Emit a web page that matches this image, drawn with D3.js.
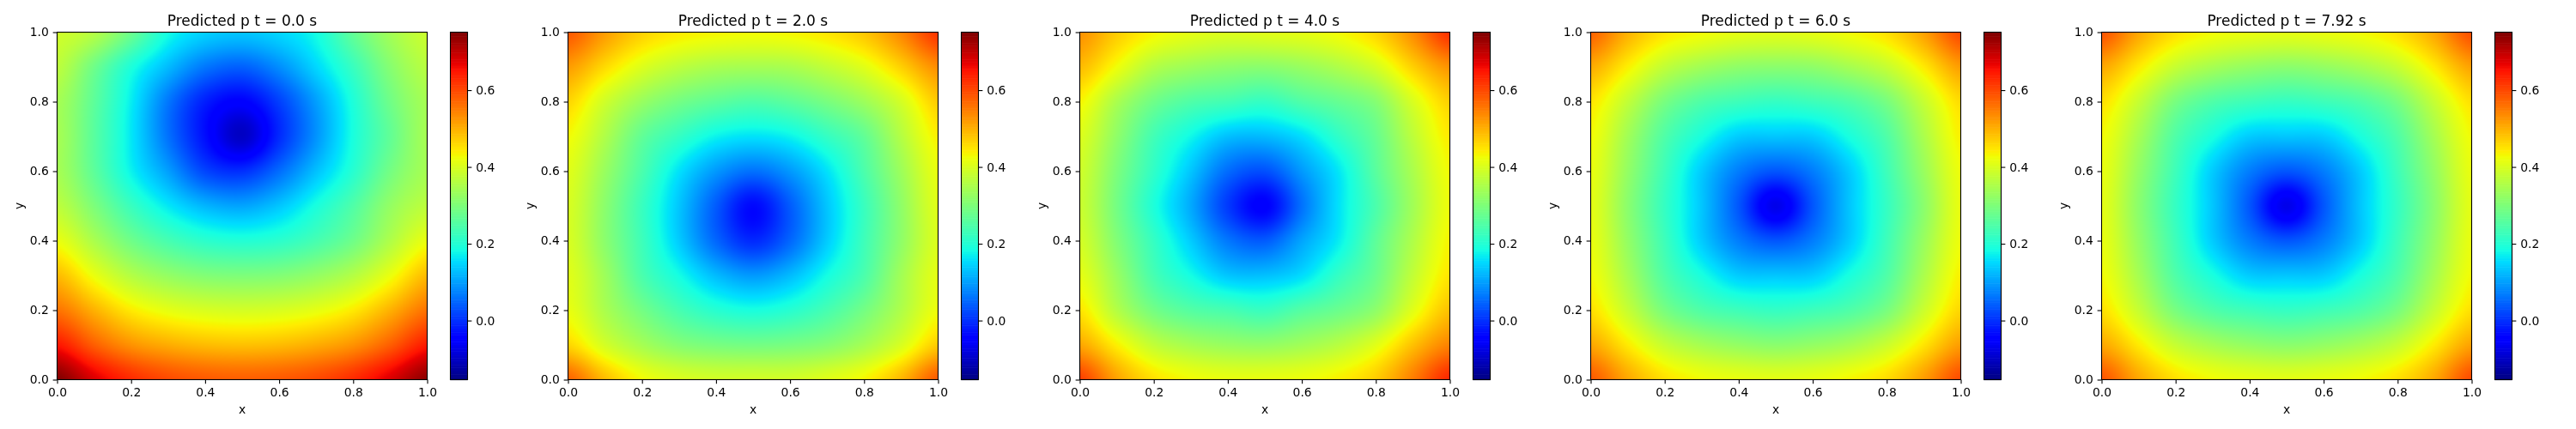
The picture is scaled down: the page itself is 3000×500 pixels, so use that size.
<!DOCTYPE html>
<html><head><meta charset="utf-8">
<script src="https://cdn.jsdelivr.net/npm/d3@7"></script>
<style>
html,body{margin:0;padding:0;background:#fff;width:3000px;height:500px;overflow:hidden}
#wrap{position:relative;width:3000px;height:500px}
canvas,svg{position:absolute;left:0;top:0}
text{font-family:"DejaVu Sans";fill:#000}
</style></head><body><div id="wrap"></div>
<script>
const titles=["Predicted p t = 0.0 s","Predicted p t = 2.0 s","Predicted p t = 4.0 s","Predicted p t = 6.0 s","Predicted p t = 7.92 s"];
const gridX=[0,.1,.2,.3,.4,.5,.6,.7,.8,.9,1];
const gridY=[1,.9,.8,.7,.6,.5,.4,.3,.2,.1,0];
const axisTicks=[0,.2,.4,.6,.8,1];
const barTicks=[0,.2,.4,.6];
const vMin=-0.154, vMax=0.751;
const p0=[
[.39,.36,.28,.185,.145,.135,.15,.185,.27,.34,.385],
[.37,.285,.195,.125,.065,.045,.085,.15,.225,.31,.365],
[.345,.265,.17,.065,-.015,-.045,.015,.10,.195,.285,.345],
[.345,.26,.165,.06,-.03,-.10,-.005,.09,.19,.27,.345],
[.345,.265,.175,.10,.02,.0,.055,.13,.205,.29,.345],
[.37,.30,.225,.165,.12,.105,.135,.19,.25,.325,.37],
[.42,.35,.285,.24,.21,.20,.21,.24,.285,.355,.42],
[.49,.42,.36,.325,.305,.30,.305,.325,.36,.42,.49],
[.56,.50,.445,.415,.40,.395,.40,.415,.445,.50,.56],
[.65,.58,.53,.505,.49,.485,.49,.505,.53,.58,.645],
[.75,.68,.63,.60,.585,.58,.585,.60,.63,.68,.74]];
const p2=[
[.585,.52,.47,.445,.435,.43,.435,.45,.48,.54,.62],
[.52,.46,.405,.37,.35,.345,.35,.375,.41,.47,.535],
[.465,.39,.33,.29,.265,.25,.265,.295,.335,.395,.475],
[.43,.355,.27,.22,.175,.16,.175,.22,.27,.36,.44],
[.41,.33,.245,.16,.095,.06,.095,.16,.245,.335,.42],
[.40,.315,.225,.135,.04,-.035,.04,.135,.225,.32,.41],
[.40,.315,.23,.14,.05,-.005,.05,.14,.23,.32,.405],
[.41,.335,.245,.185,.125,.095,.125,.185,.245,.34,.415],
[.42,.35,.29,.24,.205,.19,.205,.24,.29,.355,.425],
[.465,.395,.345,.31,.295,.29,.295,.31,.345,.40,.475],
[.575,.49,.43,.405,.395,.395,.395,.41,.435,.495,.585]];
const p4=[
[.53,.475,.435,.415,.405,.41,.415,.43,.465,.535,.625],
[.49,.425,.36,.335,.32,.315,.33,.355,.395,.47,.53],
[.435,.35,.285,.25,.235,.22,.25,.275,.31,.40,.47],
[.405,.32,.235,.18,.13,.125,.155,.215,.275,.37,.445],
[.39,.30,.215,.135,.055,.03,.095,.165,.26,.35,.43],
[.385,.29,.195,.11,.01,-.045,.06,.16,.245,.34,.425],
[.395,.305,.22,.14,.065,.04,.105,.17,.265,.355,.435],
[.415,.33,.24,.185,.135,.13,.155,.22,.28,.375,.45],
[.45,.36,.29,.255,.24,.225,.255,.28,.32,.41,.485],
[.51,.44,.375,.345,.33,.325,.34,.365,.41,.485,.545],
[.61,.515,.455,.43,.42,.42,.425,.44,.475,.55,.635]];
const p6=[
[.575,.50,.45,.43,.415,.41,.415,.43,.455,.515,.60],
[.505,.44,.375,.34,.32,.315,.32,.345,.38,.445,.52],
[.45,.375,.295,.25,.23,.22,.23,.25,.295,.38,.46],
[.43,.34,.25,.19,.14,.135,.14,.19,.25,.35,.44],
[.42,.325,.23,.14,.07,.035,.07,.14,.23,.33,.425],
[.415,.315,.22,.135,.035,-.07,.035,.135,.22,.315,.42],
[.42,.325,.23,.14,.07,.035,.07,.14,.23,.33,.425],
[.43,.345,.25,.19,.14,.135,.14,.19,.25,.35,.44],
[.455,.38,.295,.25,.23,.22,.23,.25,.295,.385,.465],
[.51,.445,.38,.345,.325,.315,.325,.345,.385,.45,.52],
[.585,.51,.455,.43,.42,.415,.42,.435,.46,.52,.60]];
const p8=[
[.59,.51,.455,.43,.42,.415,.42,.43,.455,.51,.595],
[.51,.445,.38,.345,.325,.315,.325,.345,.38,.445,.515],
[.455,.38,.295,.25,.23,.22,.23,.25,.295,.38,.455],
[.43,.345,.25,.19,.14,.135,.14,.19,.25,.345,.43],
[.42,.325,.23,.14,.07,.035,.07,.14,.23,.325,.42],
[.415,.315,.22,.135,.035,-.07,.035,.135,.22,.315,.415],
[.42,.325,.23,.14,.07,.035,.07,.14,.23,.325,.42],
[.43,.345,.25,.19,.14,.135,.14,.19,.25,.345,.43],
[.455,.38,.295,.25,.23,.22,.23,.25,.295,.38,.455],
[.51,.445,.38,.345,.325,.315,.325,.345,.38,.445,.515],
[.59,.51,.455,.43,.42,.415,.42,.43,.455,.51,.60]];
const fields=[p0,p2,p4,p6,p8];

// matplotlib "jet" segments
const rS=d3.scaleLinear([0,.35,.66,.89,1],[0,0,1,1,.5]);
const gS=d3.scaleLinear([0,.125,.375,.64,.91,1],[0,0,1,1,0,0]);
const bS=d3.scaleLinear([0,.11,.34,.65,1],[.5,1,1,0,0]);
const norm=d3.scaleLinear([vMin,vMax],[0,1]).clamp(true);
const jet=v=>{const t=norm(v);return [rS(t)*255,gS(t)*255,bS(t)*255];};

const W=3000,H=500;
const wrap=d3.select("#wrap");
const canvas=wrap.append("canvas").attr("width",W).attr("height",H).node();
const ctx=canvas.getContext("2d");
const svg=wrap.append("svg").attr("width",W).attr("height",H);

const left0=66.5, step=595.25, plotW=431, plotTop=37.5, plotBottom=442.5, gap=27, barW=20;

function cr(a,b,c,d,t){return b+.5*t*(c-a+t*(2*a-5*b+4*c-d+t*(3*(b-c)+d-a)));}
function sample(f,gx,gy){
  const n=gridX.length-1,cl=i=>Math.max(0,Math.min(n,i));
  const i=Math.min(n-1,Math.floor(gx)),j=Math.min(n-1,Math.floor(gy)),u=gx-i,v=gy-j;
  const row=k=>{const r=f[cl(k)];return cr(r[cl(i-1)],r[i],r[i+1],r[cl(i+2)],u);};
  return cr(row(j-1),row(j),row(j+1),row(j+2),v);
}
const tickFmt=d3.format(".1f");
function styleAxis(g){
  g.selectAll("path.domain").remove();
  g.selectAll("line").attr("stroke","#000").attr("stroke-width",1.1);
  g.selectAll("text").attr("font-size",13.9).attr("font-family","DejaVu Sans").attr("fill","#000");
}
fields.forEach((f,k)=>{
  const x0=Math.round(left0+k*step-.5)+.5;
  const x=d3.scaleLinear([0,1],[x0,x0+plotW]);
  const y=d3.scaleLinear([0,1],[plotBottom,plotTop]);
  const idx=d3.scaleLinear([gridX[0],gridX[gridX.length-1]],[0,gridX.length-1]);
  const idy=d3.scaleLinear([gridY[0],gridY[gridY.length-1]],[0,gridY.length-1]);
  const px0=Math.floor(x(0)),px1=Math.ceil(x(1)),py0=Math.floor(y(1)),py1=Math.ceil(y(0));
  const img=ctx.createImageData(px1-px0,py1-py0);
  for(let py=py0;py<py1;py++)for(let px=px0;px<px1;px++){
    const xv=Math.max(0,Math.min(1,x.invert(px+.5))),yv=Math.max(0,Math.min(1,y.invert(py+.5)));
    const c=jet(sample(f,idx(xv),idy(yv)));
    const o=4*((py-py0)*(px1-px0)+px-px0);
    img.data[o]=c[0];img.data[o+1]=c[1];img.data[o+2]=c[2];img.data[o+3]=255;
  }
  ctx.putImageData(img,px0,py0);

  const g=svg.append("g");
  g.append("text").attr("x",(x(0)+x(1))/2).attr("y",plotTop-8).attr("text-anchor","middle").attr("font-size",17).text(titles[k]);
  g.append("g").attr("transform",`translate(0,${plotBottom})`)
    .call(d3.axisBottom(x).tickValues(axisTicks).tickFormat(tickFmt).tickSize(4.86).tickPadding(4.86)).call(styleAxis);
  g.append("g").attr("transform",`translate(${x0},0)`)
    .call(d3.axisLeft(y).tickValues(axisTicks).tickFormat(tickFmt).tickSize(4.86).tickPadding(4.86)).call(styleAxis);
  g.append("rect").attr("x",x(0)).attr("y",plotTop).attr("width",plotW).attr("height",plotBottom-plotTop).attr("fill","none").attr("stroke","#000").attr("stroke-width",1.1);
  g.append("text").attr("x",(x(0)+x(1))/2).attr("y",482).attr("text-anchor","middle").attr("font-size",13.9).text("x");
  g.append("text").attr("transform",`translate(${x0-39.5},${(plotTop+plotBottom)/2}) rotate(-90)`).attr("text-anchor","middle").attr("font-size",13.9).text("y");

  // colorbar
  const bx=x0+plotW+gap;
  const c=d3.scaleLinear([vMin,vMax],[plotBottom,plotTop]);
  const levels=d3.range(256).map(i=>vMin+(vMax-vMin)*(i+.5)/256);
  const dv=(vMax-vMin)/256;
  levels.forEach(v=>{
    const rgb=jet(v);
    ctx.fillStyle=`rgb(${rgb[0]},${rgb[1]},${rgb[2]})`;
    ctx.fillRect(bx,c(v+dv/2),barW,c(v-dv/2)-c(v+dv/2)+.6);
  });
  g.append("g").attr("transform",`translate(${bx+barW},0)`)
    .call(d3.axisRight(c).tickValues(barTicks).tickFormat(tickFmt).tickSize(4.86).tickPadding(4.86)).call(styleAxis);
  g.append("rect").attr("x",bx).attr("y",plotTop).attr("width",barW).attr("height",plotBottom-plotTop).attr("fill","none").attr("stroke","#000").attr("stroke-width",1.1);
});
</script></body></html>
